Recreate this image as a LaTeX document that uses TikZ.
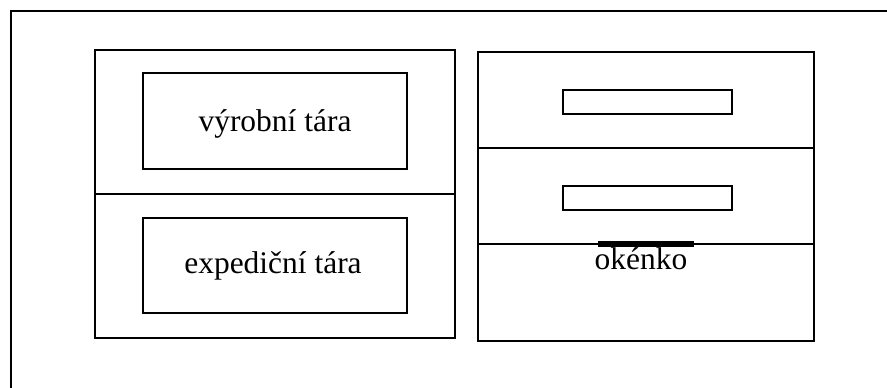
\documentclass[tikz,border=0pt]{standalone}
\usepackage{fontspec}
\setmainfont{Liberation Serif}
\begin{document}
\begin{tikzpicture}[x=0.75pt,y=-0.75pt,
  frame/.style={line width=1.2pt},
  slot/.style={line width=1.6pt},
  lbl/.style={inner sep=0pt,anchor=base,font=\fontsize{23.6}{28}\selectfont}]
\useasboundingbox (0,0) rectangle (887,388);
\fill[white] (0,0) rectangle (887,388);
% outer frame (cropped)
\draw[frame] (887,11) -- (11,11) -- (11,388);
% left panel
\draw[frame] (95,50) rectangle (455,338);
\draw[frame] (95,194) -- (455,194);
\draw[frame] (143,73) rectangle (407,169);
\draw[frame] (143,218) rectangle (407,313);
\node[lbl] (vyr) at (275,132) {výrobní tára};
\node[lbl] (exp) at (273,273) {expediční tára};
% right panel
\draw[frame] (478,52) rectangle (814,341);
\draw[frame] (478,148) -- (814,148);
\draw[frame] (478,244) -- (814,244);
\draw[slot] (563,90) rectangle (732,114);
\draw[slot] (563,186) rectangle (732,210);
\draw[line width=5pt] (598,244) -- (694,244);
\node[lbl] (ok) at (641,269) {okénko};
\end{tikzpicture}
\end{document}
